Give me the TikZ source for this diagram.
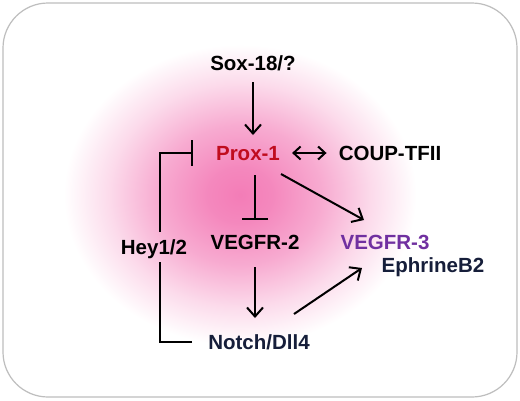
\documentclass[tikz,border=0pt]{standalone}
\usepackage{fontspec}
\setmainfont{Liberation Sans}
\usetikzlibrary{arrows.meta,calc}
\definecolor{pinkc}{RGB}{242,110,175}
\definecolor{proxred}{RGB}{192,12,30}
\definecolor{vpurple}{RGB}{112,48,160}
\definecolor{navy}{RGB}{22,30,58}
\definecolor{framegray}{RGB}{190,190,190}
\pgfdeclareradialshading{glow}{\pgfpoint{0bp}{0bp}}{%
  color(0bp)=(pinkc!90);
  color(4bp)=(pinkc!82);
  color(10bp)=(pinkc!58);
  color(16bp)=(pinkc!25);
  color(21.5bp)=(white);
  color(50bp)=(white)}
\tikzset{
  lbl/.style={inner sep=0pt, text height=15pt, text depth=0pt,
    font=\fontsize{20.5}{24}\selectfont\bfseries},
  arr/.style={line width=2pt, -{Straight Barb[length=9pt,width=16pt,line width=2pt]}},
  darr/.style={line width=2pt, {Straight Barb[length=7pt,width=13pt,line width=2pt]}-{Straight Barb[length=7pt,width=13pt,line width=2pt]}},
  inh/.style={line width=2pt, -{Bar[width=26pt,line width=2.4pt]}},
  plain/.style={line width=2pt},
}
\begin{document}
\begin{tikzpicture}[x=1pt,y=-1pt]
\useasboundingbox (0,0) rectangle (520,400);
\fill[white] (0,0) rectangle (520,400);
\shade[shading=glow] (35,20) rectangle (445,370);
\draw[framegray, line width=1.2pt, rounded corners=45pt] (3,3) rectangle (517,397);

\node[lbl] (sox) at (253,63) {Sox-18/?};
\node[lbl, text=proxred] (prox) at (248,153) {Prox-1};
\node[lbl] (coup) at (390,153) {COUP-TFII};
\node[lbl] (vegfr2) at (255,242) {VEGFR-2};
\node[lbl, text=vpurple] (vegfr3) at (385,242) {VEGFR-3};
\node[lbl, text=navy] (eph) at (433,265) {EphrineB2};
\node[lbl, text=navy] (notch) at (259,342) {Notch/Dll4};
\node[lbl] (hey) at (154,247) {Hey1/2};

\coordinate (heytop) at (160,232);
\coordinate (heybot) at (160,262);

\draw[arr] (sox.south |- 0,82) -- (sox.south |- 0,135);
\draw[darr] (prox.east) ++(12,0) -- ($(coup.west)+(-12,0)$);
\draw[inh] (vegfr2.north |- 0,175) -- (vegfr2.north |- 0,220);
\draw[arr] ($(prox)+(33,21)$) -- ($(vegfr3)+(-21,-22)$);
\draw[arr] (vegfr2.south |- 0,267) -- (vegfr2.south |- 0,318);
\draw[arr] ($(notch)+(35,-28)$) -- ($(eph)+(-71,3)$);
\draw[plain] ($(notch.west)+(-16,0)$) -| (heybot);
\draw[inh] (heytop) |- ($(prox.west)+(-23,0)$);
\end{tikzpicture}
\end{document}
